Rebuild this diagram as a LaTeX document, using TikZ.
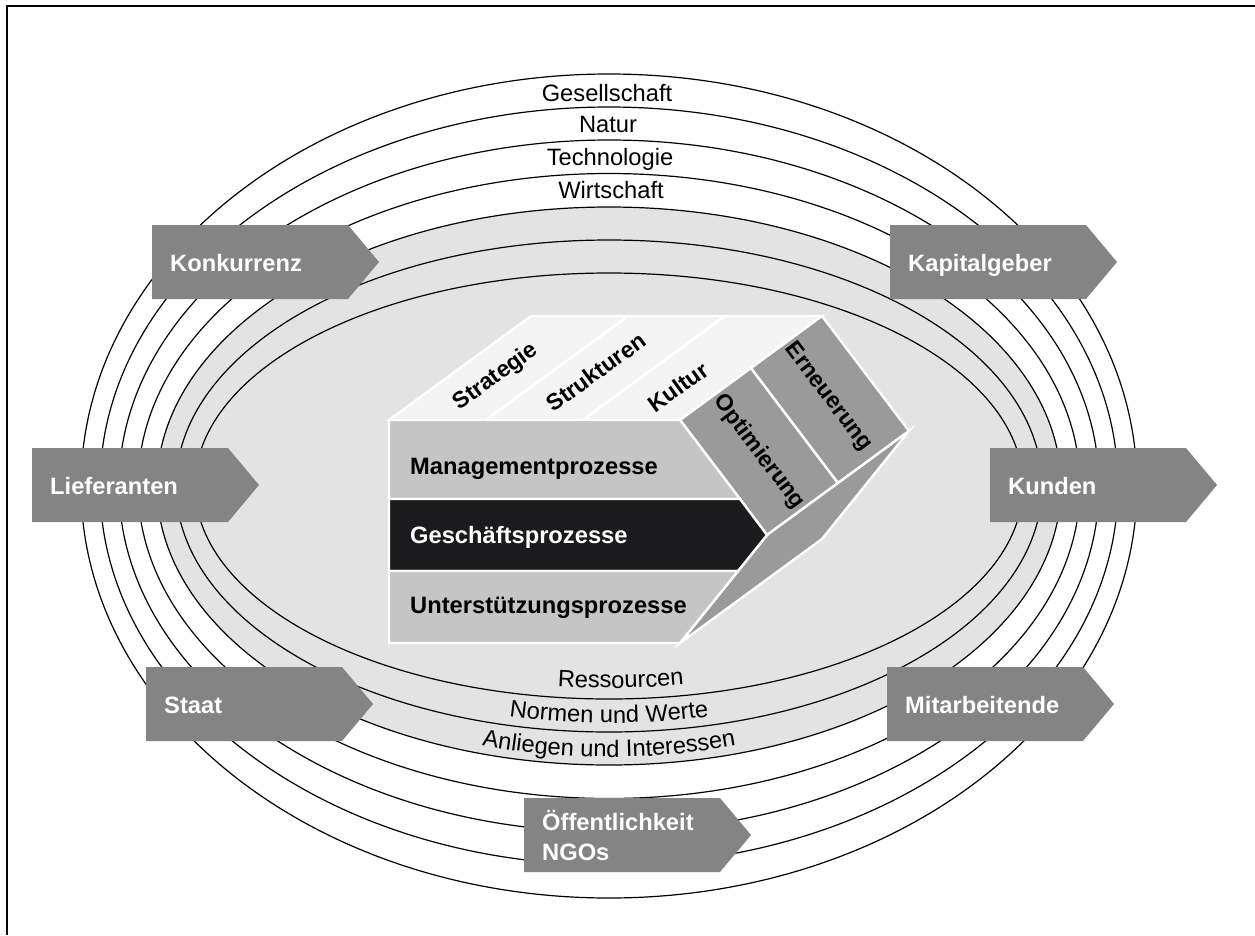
\documentclass[tikz,border=0pt]{standalone}
\usepackage{fontspec}
\setmainfont{Liberation Sans}
\usetikzlibrary{decorations.text}

\definecolor{boxgray}{HTML}{848485}
\definecolor{ringgray}{HTML}{E3E3E3}
\definecolor{bandgray}{HTML}{C5C5C6}
\definecolor{sidegray}{HTML}{9A9A9B}
\definecolor{topgray}{HTML}{F4F4F4}
\definecolor{coreblack}{HTML}{1B1B1D}

\newcommand\ringfont{\fontsize{23.7}{28}\selectfont}
\newcommand\labelfont{\bfseries\fontsize{23.7}{30}\selectfont}
\newcommand\facefont{\bfseries\fontsize{23}{28}\selectfont}

% arrow-shaped stakeholder plate: left x, top y
\newcommand\stakeplate[2]{%
  \fill[boxgray] (#1,#2) -- ++(196,0) -- ++(31,37) -- ++(-31,37) -- ++(-196,0) -- cycle;}

\tikzset{
  ringline/.style={draw=black, line width=1.2},
  ringlabel/.style={font=\ringfont, inner sep=0, anchor=base},
  boxlabel/.style={font=\labelfont, text=white, inner sep=0, anchor=base west, align=left},
  face/.style={draw=white, line width=2.4, line join=miter},
  facetext/.style={font=\facefont, inner sep=0},
}

\begin{document}
\begin{tikzpicture}[x=1pt, y=-1pt]
\useasboundingbox (0,0) rectangle (1255,935);

% frame
\draw[line width=1.3] (1255,6) -- (7,6) -- (7,935);

% environment rings
\fill[ringgray] (609,486) ellipse [x radius=452, y radius=279];
\foreach \a/\b in {528/412, 509/379, 490/346, 471/312.5, 452/279, 433/246, 414/213}
  \draw[ringline] (609,486) ellipse [x radius=\a, y radius=\b];

% outer sphere labels
\node[ringlabel] (gesellschaft) at (607,101) {Gesellschaft};
\node[ringlabel] (natur)        at (608,132) {Natur};
\node[ringlabel] (technologie)  at (610,165) {Technologie};
\node[ringlabel] (wirtschaft)   at (611,198) {Wirtschaft};

% interaction issues along the lower arcs
\path[shift={(609,486)}, decorate,
  decoration={text along path, text align=center, text={|\ringfont|Ressourcen}}]
  (128:403 and 202) arc[start angle=128, end angle=48, x radius=403, y radius=202];
\path[shift={(609,486)}, decorate,
  decoration={text along path, text align=center, text={|\ringfont|Normen und Werte}}]
  (135:424 and 237) arc[start angle=135, end angle=45, x radius=424, y radius=237];
\path[shift={(609,486)}, decorate,
  decoration={text along path, text align=center, text={|\ringfont|Anliegen und Interessen}}]
  (140:444 and 271) arc[start angle=140, end angle=40, x radius=444, y radius=271];

% ---- company prism ----
% top face: ordering moments
\filldraw[face, fill=topgray] (389,420) -- (486,420) -- (628,316) -- (531,316) -- cycle;
\filldraw[face, fill=topgray] (486,420) -- (583,420) -- (725,316) -- (628,316) -- cycle;
\filldraw[face, fill=topgray] (583,420) -- (680,420) -- (822,316) -- (725,316) -- cycle;
% upper side face: development modes
\filldraw[face, fill=sidegray] (680,420) -- (767,535) -- (838,483) -- (751,368) -- cycle;
\filldraw[face, fill=sidegray] (751,368) -- (838,483) -- (909,431) -- (822,316) -- cycle;
% lower side face
\filldraw[face, fill=sidegray] (767,535) -- (909,431) -- (822,539) -- (680,643) -- cycle;
% front face: processes
\filldraw[face, fill=bandgray] (389,420) -- (680,420) -- (740,499) -- (389,499) -- cycle;
\filldraw[face, fill=coreblack] (389,499) -- (740,499) -- (767,535) -- (738,571) -- (389,571) -- cycle;
\filldraw[face, fill=bandgray] (389,571) -- (738,571) -- (680,643) -- (389,643) -- cycle;

\node[facetext, rotate=35.9] (strategie)  at (496,377) {Strategie};
\node[facetext, rotate=35.9] (strukturen) at (596,372) {Strukturen};
\node[facetext, rotate=35.9] (kultur)     at (678,387) {Kultur};
\node[facetext, rotate=-53] (optimierung) at (759,452) {Optimierung};
\node[facetext, rotate=-53] (erneuerung)  at (828,397) {Erneuerung};

\node[font=\labelfont, inner sep=0, anchor=base west] (mgmt) at (410,474) {Managementprozesse};
\node[font=\labelfont, inner sep=0, anchor=base west, text=white] (business) at (410,543) {Geschäftsprozesse};
\node[font=\labelfont, inner sep=0, anchor=base west] (support) at (410,613) {Unterstützungsprozesse};

% ---- stakeholders ----
\stakeplate{152}{225}
\node[boxlabel] (konkurrenz) at (170,271) {Konkurrenz};
\stakeplate{890}{225}
\node[boxlabel] (kapitalgeber) at (908,271) {Kapitalgeber};
\stakeplate{32}{448}
\node[boxlabel] (lieferanten) at (50,494) {Lieferanten};
\stakeplate{990}{448}
\node[boxlabel] (kunden) at (1008,494) {Kunden};
\stakeplate{146}{667}
\node[boxlabel] (staat) at (164,713) {Staat};
\stakeplate{887}{667}
\node[boxlabel] (mitarbeitende) at (905,713) {Mitarbeitende};
\stakeplate{524}{798}
\node[boxlabel] (oeffentlichkeit) at (542,860) {Öffentlichkeit\\NGOs};

\end{tikzpicture}
\end{document}
